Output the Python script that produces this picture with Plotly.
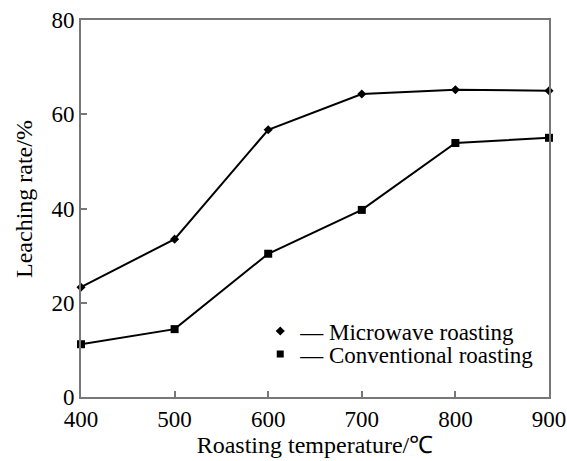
import plotly.graph_objects as go

temps = [400, 500, 600, 700, 800, 900]
microwave = [23.3, 33.5, 56.7, 64.3, 65.2, 65.0]
conventional = [11.2, 14.4, 30.4, 39.7, 53.9, 55.0]
x_ticks = [400, 500, 600, 700, 800, 900]
y_ticks = [0, 20, 40, 60, 80]
series_names = ["Microwave roasting", "Conventional roasting"]

font_family = "Liberation Serif, Times New Roman, serif"

fig = go.Figure()
fig.add_trace(go.Scatter(x=temps, y=microwave, mode="lines+markers", name=series_names[0],
                         line=dict(color="black", width=2), showlegend=False,
                         marker=dict(symbol="diamond", size=7, color="black"), cliponaxis=False))
fig.add_trace(go.Scatter(x=temps, y=conventional, mode="lines+markers", name=series_names[1],
                         line=dict(color="black", width=2), showlegend=False,
                         marker=dict(symbol="square", size=8, color="black"), cliponaxis=False))
# legend entries in the reference style: marker, short dash, label
fig.add_trace(go.Scatter(x=[None], y=[None], mode="markers", name="— " + series_names[0],
                         marker=dict(symbol="diamond", size=7, color="black"), legend="legend"))
fig.add_trace(go.Scatter(x=[None], y=[None], mode="markers", name="— " + series_names[1],
                         marker=dict(symbol="square", size=7, color="black"), legend="legend2"))

axis_common = dict(showgrid=False, zeroline=False, showline=True, linecolor="#777777", linewidth=2,
                   mirror=True, ticks="inside", ticklen=6, tickwidth=2, tickcolor="#777777",
                   automargin=False,
                   tickfont=dict(family=font_family, size=23, color="black"))

fig.update_xaxes(range=[400, 900], tickvals=x_ticks,
                 title=dict(text="Roasting temperature/℃", font=dict(family=font_family, size=24, color="black"), standoff=2),
                 **axis_common)
fig.update_yaxes(range=[0, 80], tickvals=y_ticks, **axis_common)

fig.add_annotation(text="Leaching rate/%", textangle=-90, xref="paper", yref="paper",
                   x=-0.122, y=0.525, xanchor="center", yanchor="middle", showarrow=False,
                   font=dict(family=font_family, size=24, color="black"))

legend_common = dict(xanchor="left", yanchor="middle", bgcolor="rgba(0,0,0,0)",
                     font=dict(family=font_family, size=23, color="black"), itemwidth=30)

fig.update_layout(
    width=567, height=461,
    margin=dict(l=81, r=18, t=20, b=64),
    paper_bgcolor="white", plot_bgcolor="white",
    font=dict(family=font_family, color="black"),
    legend=dict(x=0.383, y=0.175, **legend_common),
    legend2=dict(x=0.383, y=0.114, **legend_common),
)

fig.write_html("out.html")
